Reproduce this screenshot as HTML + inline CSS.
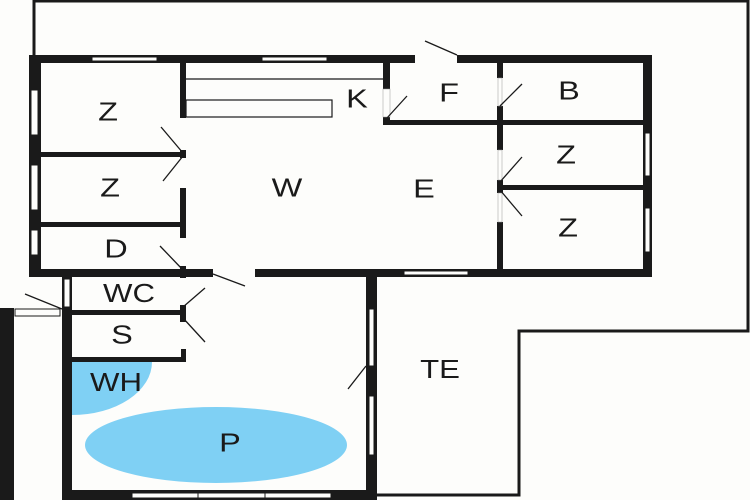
<!DOCTYPE html>
<html><head><meta charset="utf-8"><style>
html,body{margin:0;padding:0;background:#fdfdfb;}
svg{display:block}
text{font-family:"Liberation Sans",sans-serif;font-size:26px;fill:#1a1a1a;text-anchor:middle;dominant-baseline:central}
</style></head><body>
<svg width="750" height="500" viewBox="0 0 750 500" xmlns="http://www.w3.org/2000/svg">
<rect width="750" height="500" fill="#fdfdfb"/>
<polyline points="34,56 34,1 748,1 748,331 519,331 519,495 377,495" fill="none" stroke="#1a1a1a" stroke-width="3"/>
<path d="M72,362 L152,362 A80,53 0 0 1 72,415 Z" fill="#7fd0f4"/>
<ellipse cx="216" cy="445" rx="131" ry="38" fill="#7fd0f4"/>
<g fill="#1a1a1a">
<rect x="29" y="55" width="623" height="8"/>
<rect x="29" y="55" width="12" height="222"/>
<rect x="643" y="55" width="9" height="222"/>
<rect x="29" y="269" width="623" height="8"/>
<rect x="180" y="62" width="6" height="56"/>
<rect x="180" y="150" width="6" height="8"/>
<rect x="180" y="188" width="6" height="50"/>
<rect x="41" y="152" width="145" height="5"/>
<rect x="41" y="222" width="145" height="5"/>
<rect x="180" y="266" width="6" height="12"/>
<rect x="383" y="62" width="7" height="27"/>
<rect x="383" y="117" width="7" height="8"/>
<rect x="383" y="120" width="260" height="5"/>
<rect x="497" y="62" width="6" height="16"/>
<rect x="497" y="106" width="6" height="44"/>
<rect x="497" y="180" width="6" height="13"/>
<rect x="497" y="222" width="6" height="50"/>
<rect x="497" y="185" width="146" height="5"/>
<rect x="62" y="270" width="10" height="230"/>
<rect x="366" y="270" width="11" height="230"/>
<rect x="62" y="490" width="315" height="10"/>
<rect x="72" y="310" width="114" height="5"/>
<rect x="180" y="305" width="6" height="17"/>
<rect x="72" y="357" width="114" height="5"/>
<rect x="181" y="349" width="5" height="13"/>
<rect x="0" y="308" width="14" height="192"/>
</g>
<g fill="#fdfdfb" stroke="#1a1a1a" stroke-width="1">
<rect x="92" y="57" width="65" height="4"/>
<rect x="262" y="57" width="65" height="4"/>
<rect x="31" y="90" width="7" height="45"/>
<rect x="31" y="165" width="7" height="45"/>
<rect x="31" y="230" width="7" height="25"/>
<rect x="645" y="133" width="5" height="43"/>
<rect x="645" y="208" width="5" height="44"/>
<rect x="404" y="271" width="64" height="4"/>
<rect x="64" y="279" width="6" height="28"/>
<rect x="369" y="309" width="5" height="57"/>
<rect x="369" y="396" width="5" height="59"/>
<rect x="132" y="493" width="66" height="5"/>
<rect x="198" y="493" width="67" height="5"/>
<rect x="265" y="493" width="66" height="5"/>
<rect x="15" y="309" width="45" height="7"/>
</g>
<rect x="415" y="55" width="42" height="8" fill="#fdfdfb"/>
<rect x="213" y="269" width="42" height="8" fill="#fdfdfb"/>
<rect x="383" y="89" width="7" height="28" fill="#fdfdfb" stroke="#999" stroke-width="0.5"/>
<rect x="498" y="78" width="4" height="28" fill="#fdfdfb" stroke="#999" stroke-width="0.5"/>
<rect x="498" y="150" width="4" height="30" fill="#fdfdfb" stroke="#999" stroke-width="0.5"/>
<rect x="498" y="193" width="4" height="29" fill="#fdfdfb" stroke="#999" stroke-width="0.5"/>
<g fill="none" stroke="#1a1a1a" stroke-width="1.2">
<line x1="186" y1="79" x2="383" y2="79"/>
<rect x="186" y="100" width="146" height="17"/>
</g>
<g stroke="#1a1a1a" stroke-width="1.3">
<line x1="161" y1="127" x2="183" y2="153"/>
<line x1="183" y1="156" x2="163" y2="181"/>
<line x1="160" y1="246" x2="183" y2="270"/>
<line x1="213" y1="274" x2="245" y2="286"/>
<line x1="425" y1="41" x2="457" y2="55"/>
<line x1="387" y1="118" x2="407" y2="96"/>
<line x1="500" y1="106" x2="522" y2="84"/>
<line x1="500" y1="182" x2="522" y2="157"/>
<line x1="500" y1="190" x2="522" y2="216"/>
<line x1="183" y1="307" x2="205" y2="288"/>
<line x1="183" y1="318" x2="205" y2="342"/>
<line x1="366" y1="366" x2="348" y2="389"/>
<line x1="25" y1="294" x2="62" y2="309"/>
</g>
<text transform="translate(108,112) scale(1.25,1)">Z</text>
<text transform="translate(110,188) scale(1.25,1)">Z</text>
<text transform="translate(116,249) scale(1.25,1)">D</text>
<text transform="translate(287,188) scale(1.25,1)">W</text>
<text transform="translate(424,189) scale(1.25,1)">E</text>
<text transform="translate(357,99) scale(1.25,1)">K</text>
<text transform="translate(449,93) scale(1.25,1)">F</text>
<text transform="translate(569,91) scale(1.25,1)">B</text>
<text transform="translate(566,155) scale(1.25,1)">Z</text>
<text transform="translate(568,228) scale(1.25,1)">Z</text>
<text transform="translate(129,294) scale(1.2,1)">WC</text>
<text transform="translate(122,335) scale(1.25,1)">S</text>
<text transform="translate(116,383) scale(1.2,1)">WH</text>
<text transform="translate(230,443) scale(1.25,1)">P</text>
<text transform="translate(440,370) scale(1.2,1)">TE</text>
</svg>
</body></html>
